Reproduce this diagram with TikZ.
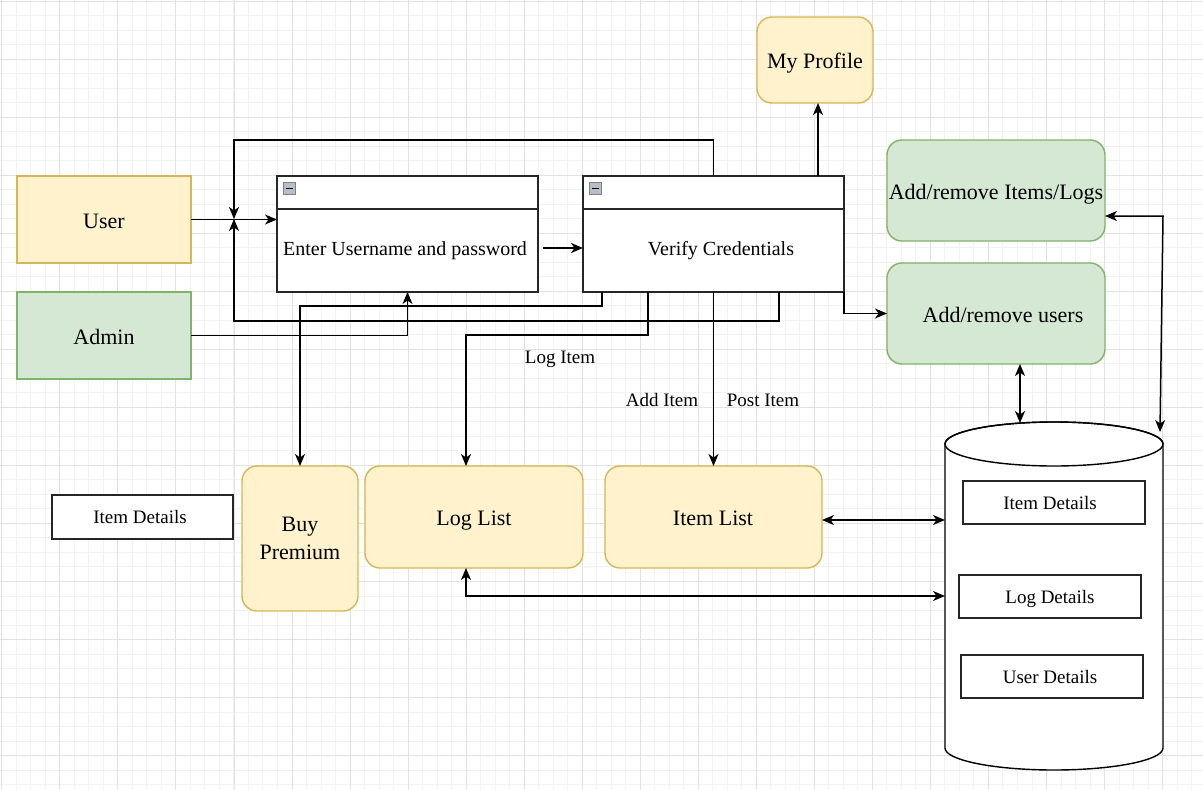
\documentclass[tikz,border=0pt]{standalone}
\usepackage{fontspec}
\setmainfont{Liberation Serif}
\usetikzlibrary{arrows.meta,calc}
\definecolor{yfill}{HTML}{FFF2CC}
\definecolor{ystroke}{HTML}{D6B656}
\definecolor{gfill}{HTML}{D5E8D4}
\definecolor{gstroke}{HTML}{82B366}
\definecolor{gridmaj}{HTML}{E2E2E2}
\definecolor{gridmin}{HTML}{F2F2F2}
\definecolor{icofill}{HTML}{B8BDC6}
\definecolor{icoline}{HTML}{7A808C}
\begin{document}
\begin{tikzpicture}[x=1pt,y=-1pt,
  every node/.style={inner sep=0pt, outer sep=0pt},
  base/.style={line width=1.4pt, anchor=north west, align=center},
  ybox/.style={base, draw=ystroke, fill=yfill},
  gbox/.style={base, draw=gstroke, fill=gfill},
  yrbox/.style={ybox, rounded corners=15pt},
  grbox/.style={gbox, rounded corners=15pt},
  wbox/.style={base, draw=black!85, fill=white},
  bigf/.style={font=\fontsize{22}{28}\selectfont},
  big/.style={bigf, text height=21.5pt, text depth=3.9pt},
  mid/.style={font=\fontsize{20}{24}\selectfont, text height=19.5pt, text depth=3.5pt},
  sml/.style={font=\fontsize{19}{23}\selectfont, text height=18.5pt, text depth=3.3pt},
  tip/.tip={Stealth[length=12pt,width=10pt,inset=3.5pt]},
  arr/.style={line width=1.5pt, -tip},
  darr/.style={line width=1.5pt, tip-tip},
  ico/.style={draw=icoline, fill=icofill, line width=0.7pt}
]
\useasboundingbox (0,0) rectangle (1203,790);
\fill[white] (0,0) rectangle (1203,790);
% grid
\foreach \i in {0,...,82} {\draw[gridmin, line width=0.8pt] ({1.7+\i*14.51},0) -- ++(0,790);}
\foreach \i in {0,...,54} {\draw[gridmin, line width=0.8pt] (0,{1+\i*14.51}) -- ++(1203,0);}
\foreach \i in {0,...,20} {\draw[gridmaj, line width=0.8pt] ({1.7+\i*58.05},0) -- ++(0,790);}
\foreach \i in {0,...,13} {\draw[gridmaj, line width=0.8pt] (0,{1+\i*58.05}) -- ++(1203,0);}

% actors
\node[ybox, minimum width=174pt, minimum height=87pt] (user) at (17,176) {};
\node[big] (usert) at (104,219.5) {User};
\node[gbox, minimum width=174pt, minimum height=87pt] (admin) at (17,292) {};
\node[big] (admint) at (104,335.5) {Admin};

% containers
\node[base, draw=black!85, fill=white, minimum width=261pt, minimum height=116pt] (c1) at (277,176) {};
\draw[line width=1.4pt, black!85] ([yshift=-33pt]c1.north west) -- ([yshift=-33pt]c1.north east);
\draw[ico] ([xshift=6.5pt,yshift=-6.5pt]c1.north west) rectangle ++(12,12);
\draw[line width=1.1pt] ([xshift=9pt,yshift=-12.5pt]c1.north west) -- ++(7,0);
\node[mid] (c1t) at (405,247) {Enter Username and password};

\node[base, draw=black!85, fill=white, minimum width=261pt, minimum height=116pt] (c2) at (583,176) {};
\draw[line width=1.4pt, black!85] ([yshift=-33pt]c2.north west) -- ([yshift=-33pt]c2.north east);
\draw[ico] ([xshift=6.5pt,yshift=-6.5pt]c2.north west) rectangle ++(12,12);
\draw[line width=1.1pt] ([xshift=9pt,yshift=-12.5pt]c2.north west) -- ++(7,0);
\node[mid] (c2t) at (721,247) {Verify Credentials};

% other boxes
\node[yrbox, minimum width=116pt, minimum height=86pt] (prof) at (757,17) {};
\node[big] (proft) at (815,60) {My Profile};
\node[grbox, minimum width=218pt, minimum height=101pt] (items) at (887,140) {};
\node[big] (itemst) at (996,191) {Add/remove Items/Logs};
\node[grbox, minimum width=218pt, minimum height=101pt] (users) at (887,263) {};
\node[big] (userst) at (1003,314) {Add/remove users};

\node[yrbox, bigf, minimum width=116pt, minimum height=145pt] (buy) at (242,466) {Buy\\Premium};
\node[yrbox, minimum width=218pt, minimum height=102pt] (loglist) at (365,466) {};
\node[big] (loglistt) at (474,517) {Log List};
\node[yrbox, minimum width=217pt, minimum height=102pt] (itemlist) at (605,466) {};
\node[big] (itemlistt) at (713,517) {Item List};
\node[wbox, minimum width=181pt, minimum height=44pt] (idl) at (52,495) {};
\node[sml] (idlt) at (140,516) {Item Details};

% database cylinder
\node[base, minimum width=218pt, minimum height=348pt] (db) at (945,422) {};
\filldraw[line width=1.4pt, fill=white] (945,444) -- (945,748)
  arc[start angle=180, end angle=0, x radius=109, y radius=22] -- (1163,444)
  arc[start angle=0, end angle=-180, x radius=109, y radius=22] -- cycle;
\draw[line width=1.4pt] (1054,444) ellipse [x radius=109, y radius=22];
\node[wbox, minimum width=182pt, minimum height=43pt] (di) at (963,481) {};
\node[sml] (dit) at (1050,502) {Item Details};
\node[wbox, minimum width=182pt, minimum height=43pt] (dl) at (959,575) {};
\node[sml] (dlt) at (1050,596) {Log Details};
\node[wbox, minimum width=182pt, minimum height=43pt] (du) at (961,655) {};
\node[sml] (dut) at (1050,676) {User Details};

% connectors
\coordinate (jn) at (234,219);
\draw[arr] (user.east) -- (user.east -| c1.west);
\draw[arr] (c2.north) |- (234,140) -- (jn);
\draw[arr] ([xshift=196pt]c2.south west) |- (234,321) -- (jn);
\coordinate (j1) at (543,248);
\draw[arr] (j1) -- (j1 -| c2.west);
\draw[arr] (admin.east) -| (c1.south);
\coordinate (bp) at (300,306);
\draw[arr] ([xshift=19pt]c2.south west) |- (bp) -- (buy.north);
\coordinate (ll) at (466,335);
\draw[arr] ([xshift=65pt]c2.south west) |- (ll) -- (ll |- loglist.north);
\node[sml] (lbl1) at (560,356) {Log Item};
\draw[arr] (c2.south) -- (c2.south |- itemlist.north);
\node[sml] (lbl2) at (662,399) {Add Item};
\node[sml] (lbl3) at (763,399) {Post Item};
\draw[arr] ([xshift=235pt]c2.north west) -- ([xshift=235pt]c2.north west |- prof.south);
\draw[arr] (c2.south east) |- (users.west);
\coordinate (du1) at (1020,423);
\draw[darr] (users.south -| du1) -- (du1);
\coordinate (it1) at (1163,216);
\coordinate (it2) at (1160,432);
\draw[darr] (items.east |- it1) -- (it1) -- (it2);
\draw[darr] ([yshift=-3pt]itemlist.east) -- ([yshift=-3pt]itemlist.east -| db.west);
\draw[darr] ([xshift=-8pt]loglist.south) |- (db.west);
\end{tikzpicture}
\end{document}
